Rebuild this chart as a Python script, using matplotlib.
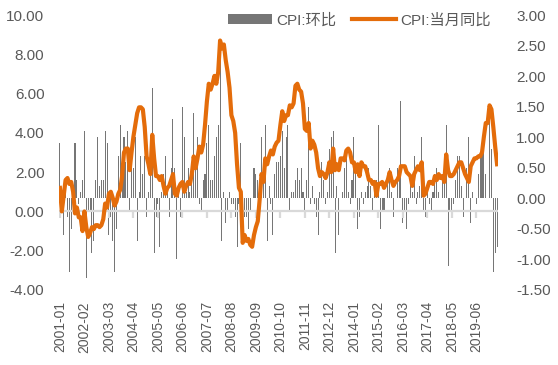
import numpy as np
import pandas as pd
import matplotlib
matplotlib.use("Agg")
import matplotlib.pyplot as plt

months = pd.period_range("2001-01", "2020-05", freq="M").strftime("%Y-%m").tolist()

# CPI 当月同比 (%), left axis
cpi_yoy = [
    1.2, 0.0, 0.8, 1.6, 1.7, 1.4, 1.5, 1.0, -0.1, 0.2, -0.3, -0.3,
    -1.0, 0.0, -0.8, -1.3, -1.1, -0.8, -0.9, -0.7, -0.7, -0.8, -0.7, -0.4,
    0.4, 0.2, 0.9, 1.0, 0.7, 0.3, 0.5, 0.9, 1.1, 1.8, 3.0, 3.2,
    3.2, 2.1, 3.0, 3.8, 4.4, 5.0, 5.3, 5.3, 5.2, 4.3, 2.8, 2.4,
    1.9, 3.9, 2.7, 1.8, 1.8, 1.6, 1.8, 1.3, 0.9, 1.2, 1.3, 1.6,
    1.9, 0.9, 0.8, 1.2, 1.4, 1.5, 1.0, 1.3, 1.5, 1.4, 1.9, 2.8,
    2.2, 2.7, 3.3, 3.0, 3.4, 4.4, 5.6, 6.5, 6.2, 6.5, 6.9, 6.5,
    7.1, 8.7, 8.3, 8.5, 7.7, 7.1, 6.3, 4.9, 4.6, 4.0, 2.4, 1.2,
    1.0, -1.6, -1.2, -1.5, -1.4, -1.7, -1.8, -1.2, -0.8, -0.5, 0.6, 1.9,
    1.5, 2.7, 2.4, 2.8, 3.1, 2.9, 3.3, 3.5, 3.6, 4.4, 5.1, 4.6,
    4.9, 4.9, 5.4, 5.3, 5.5, 6.4, 6.5, 6.2, 6.1, 5.5, 4.2, 4.1,
    4.5, 3.2, 3.6, 3.4, 3.0, 2.2, 1.8, 2.0, 1.9, 1.7, 2.0, 2.5,
    2.0, 3.2, 2.1, 2.4, 2.1, 2.7, 2.7, 2.6, 3.1, 3.2, 3.0, 2.5,
    2.5, 2.0, 2.4, 1.8, 2.5, 2.3, 2.3, 2.0, 1.6, 1.6, 1.4, 1.5,
    0.8, 1.4, 1.4, 1.5, 1.2, 1.4, 1.6, 2.0, 1.6, 1.3, 1.5, 1.6,
    1.8, 2.3, 2.3, 2.3, 2.0, 1.9, 1.8, 1.3, 1.9, 2.1, 2.3, 2.1,
    2.5, 0.8, 0.9, 1.2, 1.5, 1.5, 1.4, 1.8, 1.6, 1.9, 1.7, 1.8,
    1.5, 2.9, 2.1, 1.8, 1.8, 1.9, 2.1, 2.3, 2.5, 2.5, 2.2, 1.9,
    1.7, 1.5, 2.3, 2.5, 2.7, 2.7, 2.8, 2.8, 3.0, 3.8, 4.5, 4.5,
    5.4, 5.2, 4.3, 3.3, 2.4,
]

# CPI 环比 (%), right axis
cpi_mom = [
    0.9, 0.1, -0.6, 0.2, -0.3, -1.2, -0.5, 0.1, 0.9, 0.3, -0.1, 0.1,
    0.3, 1.1, -1.3, -0.2, -0.2, -0.9, -0.7, 0.3, 1.0, 0.2, 0.3, 0.3,
    1.1, 0.9, -0.6, -0.3, -0.7, -1.2, -0.5, 0.7, 1.2, 0.7, 1.0, 0.6,
    1.1, -0.2, 0.5, 0.5, 1.0, -0.7, 0.1, 0.7, 0.4, 0.7, -0.3, 0.1,
    0.5, 1.8, -0.9, -0.3, -0.1, -0.8, 0.1, 0.4, 0.7, 0.1, -0.3, 0.5,
    1.3, 0.5, -1.0, 0.1, -0.3, 1.5, 1.0, 0.1, 0.5, 0.1, 0.4, 1.4,
    0.5, 1.0, -0.1, -0.2, 0.3, 0.4, 0.9, 1.2, 0.3, 0.3, 0.7, 1.0,
    1.2, 2.6, -0.7, 0.1, -0.4, -0.2, 0.1, -0.1, -0.1, -0.3, -0.8, -0.1,
    0.9, -0.3, -0.3, -0.3, -0.5, -0.2, 0.0, 0.5, 0.4, 0.3, 0.3, 1.0,
    0.6, 1.2, -0.7, 0.2, -0.1, -0.6, 0.4, 0.6, 0.6, 0.7, 1.1, 0.5,
    1.0, 1.2, -0.2, 0.1, 0.1, 0.3, 0.5, 0.3, 0.5, 0.1, -0.2, 0.3,
    1.5, -0.1, 0.2, -0.1, -0.3, -0.6, 0.1, 0.6, 0.3, -0.1, 0.1, 0.8,
    1.0, 1.1, -0.9, 0.2, -0.6, 0.0, 0.1, 0.5, 0.8, 0.1, -0.1, 0.3,
    1.0, 0.5, -0.5, -0.3, 0.1, -0.1, 0.1, 0.2, 0.5, 0.2, -0.2, 0.3,
    0.3, 1.2, -0.5, -0.2, -0.2, 0.0, 0.3, 0.5, 0.1, -0.3, 0.0, 0.5,
    0.5, 1.6, -0.4, -0.2, -0.5, -0.1, 0.2, 0.1, 0.7, -0.1, 0.1, 0.2,
    1.0, -0.2, -0.3, 0.1, -0.1, -0.2, 0.1, 0.4, 0.5, 0.1, 0.0, 0.3,
    0.6, 1.2, -1.1, -0.2, -0.2, -0.1, 0.3, 0.7, 0.7, 0.2, -0.3, 0.0,
    0.5, 1.0, -0.4, 0.1, 0.0, -0.1, 0.4, 0.7, 0.9, 0.9, 0.4, 0.0,
    1.4, 0.8, -1.2, -0.9, -0.8,
]

left_ticks = np.arange(-4, 10.1, 2)
right_ticks = np.arange(-1.5, 3.01, 0.5)
tick_step = 13

text_color = "#595959"
plt.rcParams["font.family"] = ["Liberation Sans", "Noto Sans CJK SC"]

x = np.arange(len(months))

fig = plt.figure(figsize=(5.58, 3.65), dpi=100)
ax = fig.add_axes([0.1057, 0.2055, 0.7868, 0.7534])
ax2 = ax.twinx()

bars = ax2.bar(x, cpi_mom, width=0.55, color="#767676", label="CPI:环比")
ax.axhline(0, color="#d9d9d9", lw=1.6, zorder=1)
xt = x[::tick_step]
ax.plot(xt, np.zeros(len(xt)), ls="none", marker=3, ms=5, mew=1.6,
        color="#d9d9d9", zorder=1)
line, = ax.plot(x, cpi_yoy, color="#e46c0a", lw=3, label="CPI:当月同比",
                solid_joinstyle="round", zorder=3)

ax.set_zorder(ax2.get_zorder() + 1)
ax.patch.set_visible(False)

ax.set_xlim(-0.5, len(months) - 0.5)
ax.set_ylim(-4, 10)
ax2.set_ylim(-1.5, 3.0)
ax.set_yticks(left_ticks)
ax.set_yticklabels([f"{v:.2f}" for v in left_ticks])
ax2.set_yticks(right_ticks)
ax2.set_yticklabels([f"{v:.2f}" for v in right_ticks])
ax.set_xticks(xt)
ax.set_xticklabels([months[i] for i in xt], rotation=90)

for a in (ax, ax2):
    for s in a.spines.values():
        s.set_visible(False)
ax.tick_params(axis="y", length=0, pad=10.5, labelsize=11, labelcolor=text_color)
ax2.tick_params(axis="y", length=0, pad=13, labelsize=11, labelcolor=text_color)
ax.tick_params(axis="x", length=0, pad=8, labelsize=10, labelcolor=text_color)

fig.legend([bars, line], ["CPI:环比", "CPI:当月同比"], loc="center",
           bbox_to_anchor=(0.644, 0.945), ncol=2, frameon=False,
           handlelength=2.9, handletextpad=0.3, columnspacing=1.0,
           fontsize=11, labelcolor=text_color)

fig.savefig("out.png", dpi=100)
